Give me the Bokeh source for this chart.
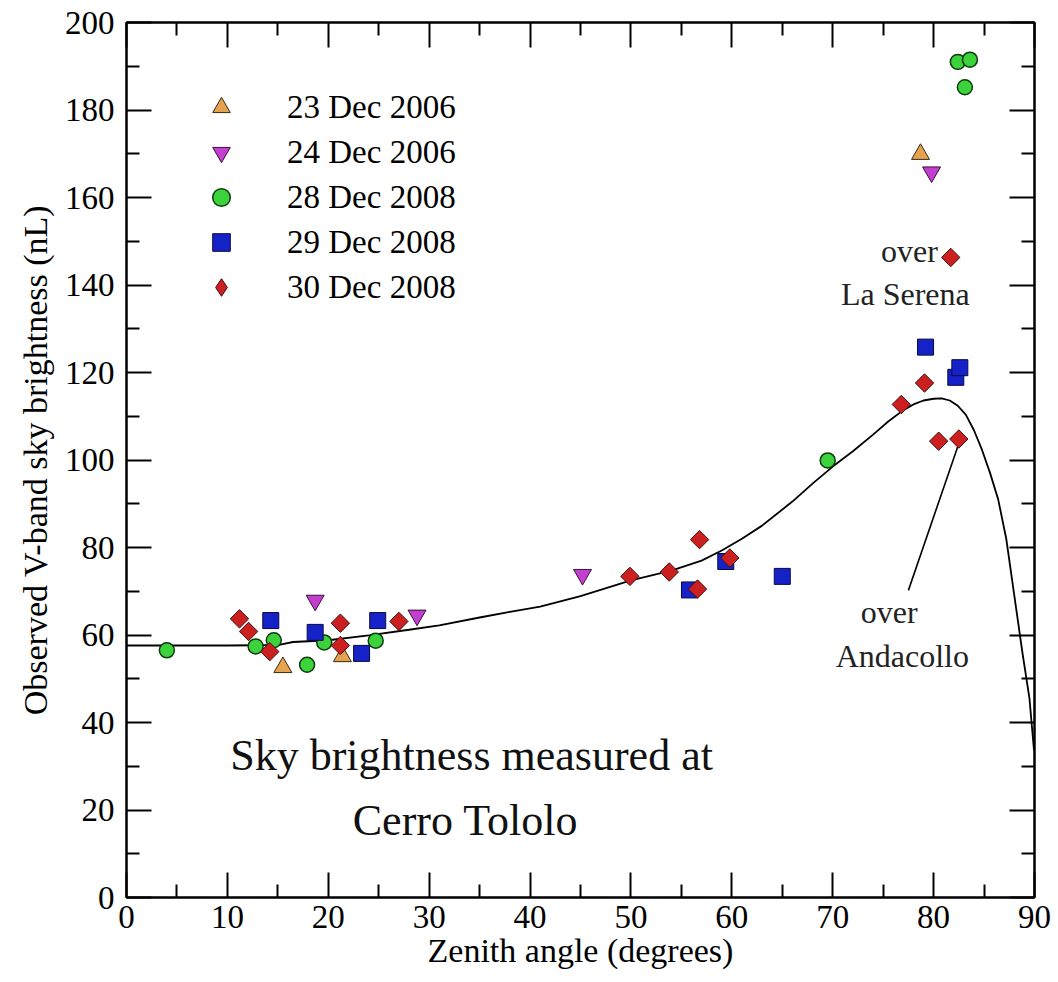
import numpy as np
from bokeh.plotting import figure
from bokeh.models import (Legend, LegendItem, LinearAxis, FixedTicker, Range1d,
                          ColumnDataSource)
from bokeh.core.properties import value
from bokeh.embed import file_html
from bokeh.resources import INLINE

FONT = "Liberation Serif"

# ---------------- data ----------------
dec23_x = [15.5, 21.4, 78.7]
dec23_y = [52.6, 55.1, 169.9]

dec24_x = [18.7, 28.8, 45.2, 79.8]
dec24_y = [67.9, 64.5, 73.8, 165.8]

dec28_x = [4.0, 12.8, 14.6, 17.9, 19.6, 24.7, 69.5, 82.4, 83.6, 83.1]
dec28_y = [56.5, 57.4, 58.8, 53.2, 58.3, 58.7, 99.9, 191.0, 191.5, 185.2]

dec29_x = [14.3, 18.7, 23.3, 24.9, 55.8, 59.4, 65.0, 79.2, 82.2, 82.6]
dec29_y = [63.3, 60.6, 55.8, 63.3, 70.3, 76.8, 73.4, 125.8, 118.9, 121.1]

dec30_x = [11.2, 12.1, 14.2, 21.2, 21.2, 27.0, 49.9, 53.8, 56.8, 56.6, 59.8,
           76.8, 79.1, 80.5, 82.5, 81.7]
dec30_y = [63.7, 60.8, 56.2, 62.7, 57.6, 63.1, 73.4, 74.4, 81.8, 70.5, 77.6,
           112.7, 117.6, 104.3, 104.8, 146.3]

# model curve
model_x = [0, 10, 15, 16.5, 20, 24, 28, 31, 35, 38, 41, 45, 50, 54, 57, 59,
           61, 63, 66, 68, 70, 72, 74, 75.5, 77, 78, 79, 80, 80.8, 81.6, 82.4,
           83.2, 84, 84.8, 85.6, 86.4, 87.2, 88, 88.8, 89.5, 89.95]
model_y = [57.6, 57.6, 57.7, 58.4, 58.8, 59.9, 61.2, 62.2, 64.0, 65.3, 66.5,
           68.9, 72.5, 74.7, 77.0, 79.3, 82.0, 85.0, 90.5, 94.6, 98.5, 102.0,
           105.8, 108.8, 111.4, 112.7, 113.6, 114.0, 114.1, 113.6, 112.4,
           110.3, 106.8, 102.3, 97.0, 91.0, 82.0, 69.0, 56.0, 45.5, 33.6]

series_labels = ["23 Dec 2006", "24 Dec 2006", "28 Dec 2008", "29 Dec 2008",
                 "30 Dec 2008"]

x_ticks = [0, 10, 20, 30, 40, 50, 60, 70, 80, 90]
x_minor = [5, 15, 25, 35, 45, 55, 65, 75, 85]
y_ticks = [0, 20, 40, 60, 80, 100, 120, 140, 160, 180, 200]
y_minor = [10, 30, 50, 70, 90, 110, 130, 150, 170, 190]

pointer_x = [77.5, 82.4]
pointer_y = [70.2, 103.1]

small_note_text = ["over", "La Serena", "over", "Andacollo"]
small_note_x = [77.6, 77.2, 75.6, 76.9]
small_note_y = [147.8, 138.0, 65.3, 55.3]

big_note_text = ["Sky brightness measured at", "Cerro Tololo"]
big_note_x = [34.2, 33.6]
big_note_y = [32.4, 17.6]

# ---------------- figure ----------------
p = figure(frame_width=908, frame_height=875,
           x_range=Range1d(0, 90), y_range=Range1d(0, 200),
           output_backend="svg", toolbar_location=None,
           min_border_left=126, min_border_right=24,
           min_border_top=22, min_border_bottom=85,
           background_fill_color="white", border_fill_color="white")
p.grid.visible = False
p.outline_line_color = "black"
p.outline_line_width = 2


def style_axis(ax, ticks, minor, show_labels=True):
    ax.ticker = FixedTicker(ticks=ticks, minor_ticks=minor)
    ax.axis_line_color = "black"
    ax.axis_line_width = 2
    ax.major_tick_line_color = "black"
    ax.major_tick_line_width = 2
    ax.minor_tick_line_color = "black"
    ax.minor_tick_line_width = 2
    ax.major_tick_in = 25
    ax.major_tick_out = 0
    ax.minor_tick_in = 13
    ax.minor_tick_out = 0
    ax.major_label_text_font = FONT
    ax.major_label_text_color = "black"
    ax.axis_label_text_font = FONT
    ax.axis_label_text_font_style = "normal"
    ax.axis_label_text_color = "black"
    if not show_labels:
        ax.major_label_overrides = {t: "" for t in ticks}
        ax.major_label_text_font_size = "1px"
        ax.major_label_standoff = 0


xa = p.xaxis[0]
style_axis(xa, x_ticks, x_minor)
xa.major_label_text_font_size = "33px"
xa.major_label_standoff = 8
xa.axis_label = "Zenith angle (degrees)"
xa.axis_label_text_font_size = "34px"
xa.axis_label_standoff = 1

ya = p.yaxis[0]
style_axis(ya, y_ticks, y_minor)
ya.major_label_text_font_size = "33px"
ya.major_label_standoff = 12
ya.axis_label = "Observed V-band sky brightness (nL)"
ya.axis_label_text_font_size = "34px"
ya.axis_label_standoff = 8

top_ax = LinearAxis()
style_axis(top_ax, x_ticks, x_minor, show_labels=False)
p.add_layout(top_ax, "above")
right_ax = LinearAxis()
style_axis(right_ax, y_ticks, y_minor, show_labels=False)
p.add_layout(right_ax, "right")

# ---------------- model curve & annotation line ----------------
p.line(model_x, model_y, line_color="black", line_width=1.8)
p.line(pointer_x, pointer_y, line_color="black", line_width=1.6)

# ---------------- data points ----------------
c23, c24, c28, c29, c30 = "#e5a352", "#c23fcf", "#3cd23c", "#1522c8", "#cc2020"
r23 = p.scatter(dec23_x, dec23_y, marker="triangle", size=18,
                fill_color=c23, line_color="#3a2a10", line_width=1)
r24 = p.scatter(dec24_x, dec24_y, marker="inverted_triangle", size=18,
                fill_color=c24, line_color="#3a103a", line_width=1)
r28 = p.scatter(dec28_x, dec28_y, marker="circle", size=15,
                fill_color=c28, line_color="#0d3a0d", line_width=1.5)
r29 = p.scatter(dec29_x, dec29_y, marker="square", size=16,
                fill_color=c29, line_color="#0a0a40", line_width=1)
r30 = p.scatter(dec30_x, dec30_y, marker="square", size=13, angle=np.pi / 4,
                fill_color=c30, line_color="#401010", line_width=1)
# legend swatch for the diamonds (legends do not rotate markers);
# a single undrawable (NaN) point so only the legend shows it
r30_key = p.scatter(x=[float("nan")], y=[float("nan")], marker="diamond",
                    size=18, fill_color=c30, line_color="#401010",
                    line_width=1)

legend = Legend(
    items=[LegendItem(label=lab, renderers=[r])
           for lab, r in zip(series_labels, [r23, r24, r28, r29, r30_key])],
    location=(73, 588), orientation="vertical",
    glyph_width=44, glyph_height=44, label_height=44, label_standoff=44,
    spacing=1, padding=0, margin=0,
    border_line_alpha=0, background_fill_alpha=0,
    label_text_font=FONT, label_text_font_size="33px",
    label_text_color="black")
p.add_layout(legend)

# ---------------- text annotations ----------------
small_src = ColumnDataSource(dict(x=small_note_x, y=small_note_y,
                                  t=small_note_text))
p.text(x="x", y="y", text="t", source=small_src,
       text_font=value(FONT), text_font_size="32px",
       text_align="center", text_baseline="alphabetic",
       text_color="#222222")

big_src = ColumnDataSource(dict(x=big_note_x, y=big_note_y, t=big_note_text))
p.text(x="x", y="y", text="t", source=big_src,
       text_font=value(FONT), text_font_size="44px",
       text_align="center", text_baseline="alphabetic",
       text_color="#111111")

open("out.html", "w").write(file_html(p, INLINE))
